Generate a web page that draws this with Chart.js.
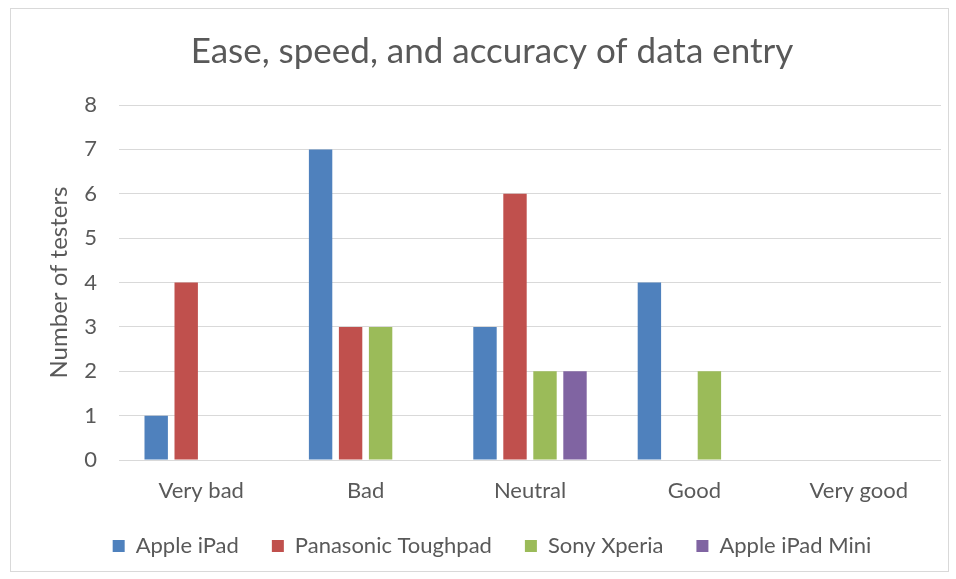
<!DOCTYPE html>
<html>
<head>
<meta charset="utf-8">
<script src="https://cdn.jsdelivr.net/npm/chart.js@4"></script>
<style>
  html, body { margin: 0; padding: 0; background: #ffffff; }
  #frame {
    position: absolute; left: 10px; top: 8px;
    width: 937px; height: 562px;
    border: 1px solid #d9d9d9;
    background: #ffffff;
  }
</style>
</head>
<body>
<div id="frame"><canvas id="easeChart" width="937" height="562"></canvas></div>
<script>
// Kategorier og værdier
const categories = ['Very bad', 'Bad', 'Neutral', 'Good', 'Very good'];
const seriesNames = ['Apple iPad', 'Panasonic Toughpad', 'Sony Xperia', 'Apple iPad Mini'];
const appleIpad = [1, 7, 3, 4, 0];
const panasonicToughpad = [4, 3, 6, 0, 0];
const sonyXperia = [0, 3, 2, 2, 0];
const appleIpadMini = [0, 0, 2, 0, 0];
const yTicks = [0, 1, 2, 3, 4, 5, 6, 7, 8];

const colors = ['#4f81bd', '#c0504d', '#9bbb59', '#8064a2'];
const values = [appleIpad, panasonicToughpad, sonyXperia, appleIpadMini];
const fontFamily = 'Lato, "Open Sans", sans-serif';
const textColor = '#595959';

const datasets = seriesNames.map((name, i) => ({
  label: name,
  data: values[i],
  backgroundColor: colors[i],
  borderWidth: 0,
  categoryPercentage: 0.73,
  barPercentage: 0.78
}));

const ctx = document.getElementById('easeChart').getContext('2d');
new Chart(ctx, {
  type: 'bar',
  data: { labels: categories, datasets },
  options: {
    responsive: false,
    animation: false,
    layout: { padding: { left: 32, right: 7, top: 0, bottom: 4 } },
    plugins: {
      title: {
        display: true,
        text: 'Ease, speed, and accuracy of data entry',
        color: textColor,
        font: { family: fontFamily, size: 35, weight: 'normal' },
        padding: { top: 22, bottom: 32 }
      },
      legend: {
        position: 'bottom',
        labels: {
          color: textColor,
          font: { family: fontFamily, size: 22 },
          boxWidth: 12,
          boxHeight: 12,
          padding: 33
        }
      },
      tooltip: { enabled: false }
    },
    scales: {
      x: {
        afterFit: axis => { axis.height = 42; },
        grid: { display: false },
        border: { display: false },
        ticks: {
          color: textColor,
          font: { family: fontFamily, size: 22 },
          padding: 10
        }
      },
      y: {
        min: 0,
        max: 8,
        afterBuildTicks: axis => { axis.ticks = yTicks.map(v => ({ value: v })); },
        afterFit: axis => { axis.width = 76; },
        grid: { color: '#d9d9d9', drawTicks: false },
        border: { display: false },
        ticks: {
          color: textColor,
          font: { family: fontFamily, size: 22 },
          padding: 22
        },
        title: {
          display: true,
          text: 'Number of testers',
          color: textColor,
          font: { family: fontFamily, size: 24 },
          padding: { top: 2, bottom: 0 }
        }
      }
    }
  }
});
</script>
</body>
</html>
